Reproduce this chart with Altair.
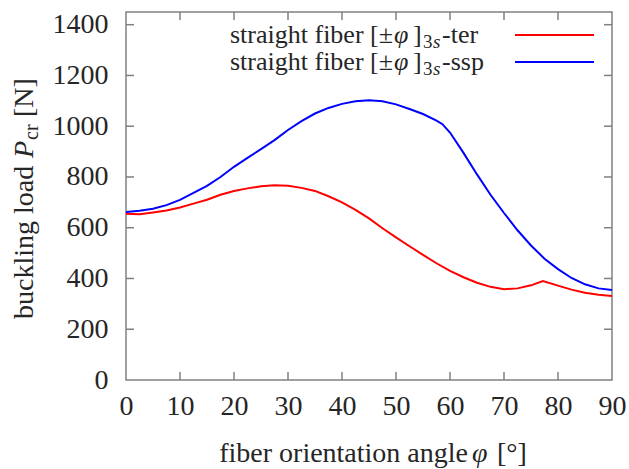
import altair as alt
import pandas as pd

# ---- data ----
ter_x = [0, 2.5, 5, 7.5, 10, 12.5, 15, 17.5, 20, 22.5, 25, 27.5, 30, 32.5, 35, 37.5, 40, 42.5, 45,
         47.5, 50, 52.5, 55, 57.5, 60, 62.5, 65, 67.5, 70, 72.5, 75, 77.2, 80, 82.5, 85, 87.5, 90]
ter_y = [655, 653, 660, 668, 680, 695, 710, 730, 745, 755, 763, 767, 765, 757, 745, 724, 700, 670, 637,
         598, 562, 527, 493, 460, 430, 405, 383, 367, 358, 361, 373, 390, 372, 356, 344, 336, 331]
ssp_x = [0, 2.5, 5, 7.5, 10, 12.5, 15, 17.5, 20, 22.5, 25, 27.5, 30, 32.5, 35, 37.5, 40, 42.5, 45,
         47.5, 50, 52.5, 55, 57.5, 58.6, 60, 62.5, 65, 67.5, 70, 72.5, 75, 77.5, 80, 82.5, 85, 87.5, 90]
ssp_y = [662, 667, 675, 689, 710, 737, 765, 800, 840, 875, 910, 945, 985, 1020, 1050, 1072, 1088, 1098, 1102,
         1098, 1086, 1068, 1048, 1022, 1008, 975, 895, 810, 730, 658, 590, 530, 478, 437, 402, 377, 361, 355]
series_names = ["ter", "ssp"]
series_colors = ["#ff0000", "#0000ff"]
x_ticks = [0, 10, 20, 30, 40, 50, 60, 70, 80, 90]
y_ticks = [0, 200, 400, 600, 800, 1000, 1200, 1400]

W, H = 486, 368
FONT = "Liberation Serif"
FS = 28
FSL = 26
SUB = 20
SUBL = 19
TXT = "#262626"
FRAME = "#808080"

df = pd.concat([
    pd.DataFrame({"angle": ter_x, "load": ter_y, "s": "ter"}),
    pd.DataFrame({"angle": ssp_x, "load": ssp_y, "s": "ssp"}),
])

xs = alt.Scale(domain=[0, 90], nice=False)
ys = alt.Scale(domain=[0, 1450], nice=False)

lines = alt.Chart(df).mark_line(strokeWidth=2, clip=True).encode(
    x=alt.X("angle:Q", scale=xs,
            axis=alt.Axis(values=x_ticks, title=None, grid=False, ticks=False, tickSize=0, domain=False,
                          labelFont=FONT, labelFontSize=FS, labelColor=TXT, labelPadding=12,
                          labelBaseline="top", labelFlush=False, format="d")),
    y=alt.Y("load:Q", scale=ys,
            axis=alt.Axis(values=y_ticks, title=None, grid=False, ticks=False, tickSize=0, domain=False,
                          labelFont=FONT, labelFontSize=FS, labelColor=TXT, labelPadding=18,
                          labelBaseline="middle", labelFlush=False, format="d")),
    color=alt.Color("s:N", scale=alt.Scale(domain=series_names, range=series_colors), legend=None),
)

# inward ticks on all four sides
xt = pd.DataFrame({"t": x_ticks[1:-1]})
yt = pd.DataFrame({"t": y_ticks[1:]})
tk = dict(color=FRAME, strokeWidth=1.5)
tick_b = alt.Chart(xt).mark_rule(**tk).encode(x=alt.X("t:Q", scale=xs), y=alt.value(H), y2=alt.value(H - 8))
tick_t = alt.Chart(xt).mark_rule(**tk).encode(x=alt.X("t:Q", scale=xs), y=alt.value(0), y2=alt.value(8))
tick_l = alt.Chart(yt).mark_rule(**tk).encode(y=alt.Y("t:Q", scale=ys), x=alt.value(0), x2=alt.value(8))
tick_r = alt.Chart(yt).mark_rule(**tk).encode(y=alt.Y("t:Q", scale=ys), x=alt.value(W), x2=alt.value(W - 8))

one = pd.DataFrame({"a": [0]})


def txt(text, x, y, size=FS, align="left", italic=False, angle=0, baseline="alphabetic"):
    kw = dict(text=text, font=FONT, fontSize=size, color=TXT, align=align, baseline=baseline)
    if italic:
        kw["fontStyle"] = "italic"
    if angle:
        kw["angle"] = angle
    return alt.Chart(one).mark_text(**kw).encode(x=alt.value(x), y=alt.value(y))


layers = [lines, tick_b, tick_t, tick_l, tick_r]

# legend
for i, (name, col) in enumerate(zip(series_names, series_colors)):
    by = 31 + 27 * i
    layers += [
        txt("straight fiber [±", 267, by, size=FSL, align="right"),
        txt("φ", 268, by, size=FSL, italic=True),
        txt("]", 287, by, size=FSL),
        txt("3", 297, by + 5, size=SUBL),
        txt("s", 307, by + 5, size=SUBL, italic=True),
        txt("-" + name, 316, by, size=FSL),
        alt.Chart(one).mark_rule(color=col, strokeWidth=2).encode(
            x=alt.value(389), x2=alt.value(468), y=alt.value(by - 8)),
    ]

# x axis title
layers += [
    txt("fiber orientation angle", 342, 450, align="right"),
    txt("φ", 346, 450, italic=True),
    txt("[°]", 371, 450),
]
# y axis title (rotated)
layers += [
    txt("buckling load", -93, 307, angle=270),
    txt("P", -93, 146, italic=True, angle=270),
    txt("cr", -88, 128, size=SUB, angle=270),
    txt("[N]", -93, 105, angle=270),
]

chart = alt.layer(*layers).properties(
    width=W, height=H,
    autosize=alt.AutoSizeParams(type="none"),
    padding={"left": 126, "top": 12, "right": 17, "bottom": 89},
    background="white",
).configure_view(stroke=FRAME, strokeWidth=1.5)

chart.save("out.html", embed_options={"renderer": "svg", "actions": False})
